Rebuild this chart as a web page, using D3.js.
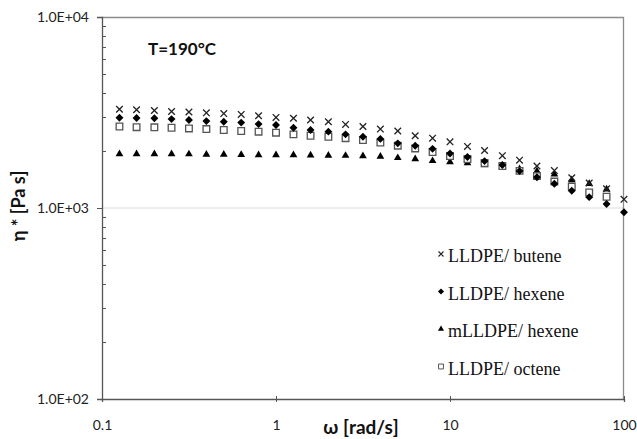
<!DOCTYPE html>
<html>
<head>
<meta charset="utf-8">
<script src="https://cdn.jsdelivr.net/npm/d3@7"></script>
<style>
  body { margin: 0; background: #fff; }
  svg { display: block; }
</style>
</head>
<body>
<div id="chart"></div>
<script>
// angular frequency (rad/s)
var omega = [0.126, 0.158, 0.2, 0.251, 0.316, 0.398, 0.501, 0.631, 0.794, 1,
  1.26, 1.58, 2, 2.51, 3.16, 3.98, 5.01, 6.31, 7.94, 10,
  12.6, 15.8, 20, 25.1, 31.6, 39.8, 50.1, 63.1, 79.4, 100];

// complex viscosity (Pa s)
var butene = [3290, 3270, 3240, 3200, 3180, 3150, 3120, 3090, 3040, 2980,
  2950, 2890, 2830, 2740, 2670, 2590, 2530, 2390, 2320, 2220,
  2100, 2000, 1880, 1780, 1660, 1570, 1440, 1350, 1260, 1110];
var hexene = [2970, 2960, 2950, 2920, 2890, 2850, 2830, 2800, 2750, 2720,
  2630, 2560, 2510, 2430, 2360, 2300, 2180, 2120, 2040, 1930,
  1850, 1760, 1680, 1560, 1450, 1340, 1230, 1140, 1050, 950];
var mHexene = [1920, 1920, 1920, 1920, 1915, 1907, 1905, 1900, 1895, 1895,
  1895, 1890, 1884, 1880, 1872, 1860, 1830, 1805, 1765, 1740,
  1720, 1680, 1640, 1600, 1560, 1500, 1400, 1340, 1255];
var octene = [2670, 2650, 2645, 2630, 2610, 2590, 2560, 2530, 2510, 2480,
  2430, 2390, 2360, 2320, 2270, 2200, 2120, 2050, 1965, 1870,
  1805, 1720, 1660, 1565, 1470, 1375, 1295, 1205, 1145];

var seriesNames = ["LLDPE/ butene", "LLDPE/ hexene", "mLLDPE/ hexene", "LLDPE/ octene"];
var xTicks = [0.1, 1, 10, 100];
var xTickLabels = ["0.1", "1", "10", "100"];
var yTicks = [100, 1000, 10000];
var yTickLabels = ["1.0E+02", "1.0E+03", "1.0E+04"];

var W = 637, H = 439;
var margin = {top: 17, right: 13, bottom: 40, left: 102};
var width = W - margin.left - margin.right,
    height = H - margin.top - margin.bottom;

var svg = d3.select("#chart").append("svg")
  .attr("width", W).attr("height", H);
var g = svg.append("g")
  .attr("transform", "translate(" + margin.left + "," + margin.top + ")");

var x = d3.scaleLog().domain([0.1, 100]).range([0, width]);
var y = d3.scaleLog().domain([100, 10000]).range([height, 0]);

// light gridline at 1.0E+03
g.append("line")
  .attr("x1", 0).attr("x2", width)
  .attr("y1", y(1000)).attr("y2", y(1000))
  .attr("stroke", "#dcdcdc").attr("stroke-width", 1);

// top and right frame
g.append("path")
  .attr("d", "M0,0.5H" + (width - 0.5) + "V" + height)
  .attr("fill", "none").attr("stroke", "#8c8c8c").attr("stroke-width", 1.3);

// minor y ticks
var minor = [];
[100, 1000].forEach(function(dec) {
  for (var k = 2; k <= 9; k++) minor.push(dec * k);
});
g.selectAll(".minor").data(minor).enter().append("line")
  .attr("x1", 0).attr("x2", 4)
  .attr("y1", function(d) { return Math.round(y(d)) + 0.5; })
  .attr("y2", function(d) { return Math.round(y(d)) + 0.5; })
  .attr("stroke", "#555");

var yAxis = g.append("g")
  .call(d3.axisLeft(y).tickValues(yTicks)
    .tickFormat(function(d, i) { return yTickLabels[i]; })
    .tickSize(5).tickPadding(8));
yAxis.select(".domain").attr("stroke", "#555").attr("stroke-width", 1.3);
yAxis.selectAll(".tick line").attr("stroke", "#555");
yAxis.selectAll("text")
  .style("font-family", "Lato, sans-serif").style("font-size", "14px").attr("fill", "#222");

var xAxis = g.append("g")
  .attr("transform", "translate(0," + height + ")")
  .call(d3.axisBottom(x).tickValues(xTicks)
    .tickFormat(function(d, i) { return xTickLabels[i]; })
    .tickSize(3).tickPadding(18));
xAxis.select(".domain").attr("stroke", "#555").attr("stroke-width", 1.3);
xAxis.selectAll(".tick line").attr("y1", -3).attr("stroke", "#555");
xAxis.selectAll("text")
  .style("font-family", "Lato, sans-serif").style("font-size", "14px").attr("fill", "#222");

// symbols
var symTimes = d3.symbol().type(d3.symbolTimes).size(30);
var symDiamond = d3.symbol().type(d3.symbolDiamond2).size(40);
var symTriangle = d3.symbol().type(d3.symbolTriangle).size(26);
var symSquare = d3.symbol().type(d3.symbolSquare).size(44);

function drawSeries(vals, sym, cls, fill, stroke, sw) {
  g.selectAll("." + cls).data(vals).enter().append("path")
    .attr("class", cls)
    .attr("transform", function(d, i) { return "translate(" + x(omega[i]) + "," + y(d) + ")"; })
    .attr("d", sym)
    .attr("fill", fill).attr("stroke", stroke).attr("stroke-width", sw);
}

drawSeries(mHexene, symTriangle, "tri", "#000", "none", 0);
drawSeries(octene, symSquare, "sq", "#fff", "#555", 1.3);
drawSeries(hexene, symDiamond, "dia", "#000", "none", 0);
drawSeries(butene, symTimes, "crs", "none", "#222", 1.3);

// annotation
g.append("text")
  .attr("x", 46).attr("y", 38)
  .style("font-family", "Lato, sans-serif").style("font-size", "17px")
  .style("font-weight", "bold").attr("fill", "#111")
  .text("T=190°C");

// axis titles
svg.append("text")
  .attr("transform", "translate(25,206) rotate(-90)")
  .attr("text-anchor", "middle")
  .style("font-family", "Lato, sans-serif").style("font-size", "18px")
  .style("font-weight", "bold").attr("fill", "#111")
  .text("η * [Pa s]");

svg.append("text")
  .attr("x", 361).attr("y", 434)
  .attr("text-anchor", "middle")
  .style("font-family", "Lato, sans-serif").style("font-size", "19px")
  .style("font-weight", "bold").attr("fill", "#111")
  .text("ω [rad/s]");

// legend
var legSyms = [
  {sym: d3.symbol().type(d3.symbolTimes).size(18), fill: "none", stroke: "#222", sw: 1.1},
  {sym: d3.symbol().type(d3.symbolDiamond2).size(24), fill: "#000", stroke: "none", sw: 0},
  {sym: d3.symbol().type(d3.symbolTriangle).size(16), fill: "#000", stroke: "none", sw: 0},
  {sym: d3.symbol().type(d3.symbolSquare).size(24), fill: "#fff", stroke: "#555", sw: 1}
];
var leg = svg.append("g").attr("transform", "translate(441,254)");
var rows = leg.selectAll(".row").data(seriesNames).enter().append("g")
  .attr("transform", function(d, i) { return "translate(0," + (i * 37.5) + ")"; });
rows.append("path")
  .attr("d", function(d, i) { return legSyms[i].sym(); })
  .attr("fill", function(d, i) { return legSyms[i].fill; })
  .attr("stroke", function(d, i) { return legSyms[i].stroke; })
  .attr("stroke-width", function(d, i) { return legSyms[i].sw; });
rows.append("text")
  .attr("x", 7).attr("y", 8)
  .style("font-family", "'Liberation Serif', 'Times New Roman', serif")
  .style("font-size", "18px").attr("fill", "#111")
  .text(function(d) { return d; });
</script>
</body>
</html>
